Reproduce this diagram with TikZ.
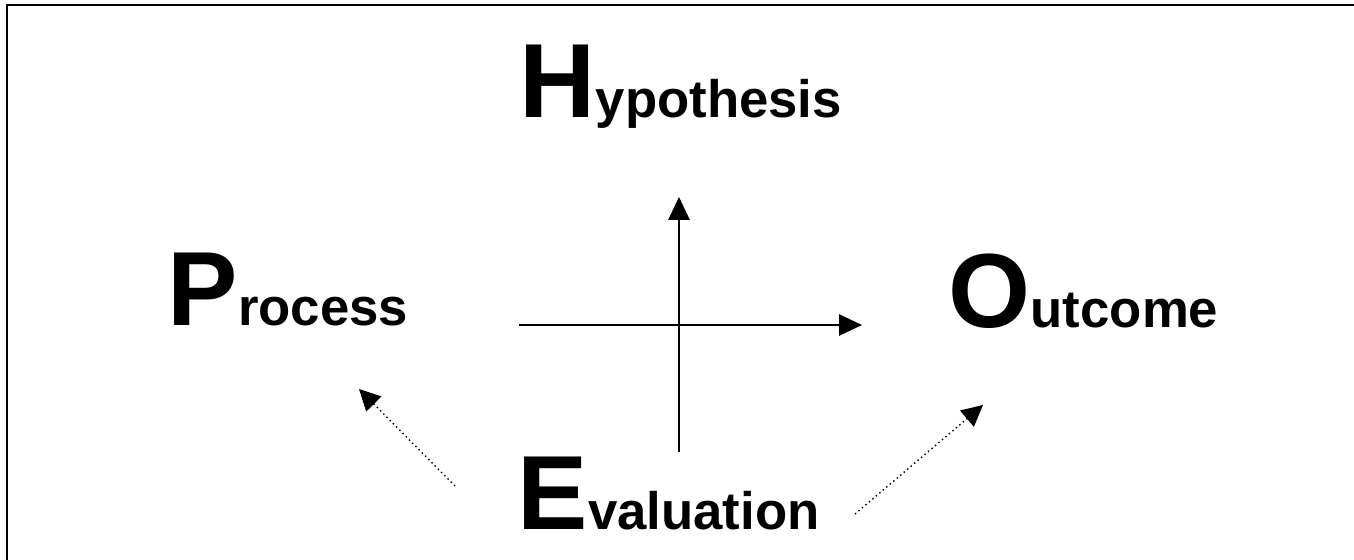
\documentclass[tikz,border=0pt]{standalone}
\usepackage{fontspec}
\setmainfont{Liberation Sans}
\usetikzlibrary{arrows.meta, positioning}

% big first letter, smaller rest of the word
\newcommand{\hpoeword}[2]{{\fontsize{30}{30}\selectfont #1}{\fontsize{15}{15}\selectfont #2}}

\begin{document}
\begin{tikzpicture}[
    x=0.1mm, y=-0.1mm,
    word/.style={font=\bfseries, inner sep=0pt, anchor=base west},
    axis/.style={-{Triangle[length=6.5pt, width=6pt]}, line width=0.6pt},
    feedback/.style={-{Triangle[length=6pt, width=6pt]}, line width=0.4pt,
        dash pattern=on 0.4pt off 0.9pt}
]
\useasboundingbox (0,0) rectangle (1354,560);

% Frame (open at right and bottom)
\draw[line width=0.6pt] (7,560) -- (7,5) -- (1354,5);

% Words
\node[word] (hyp) at (519,118) {\hpoeword{H}{ypothesis}};
\node[word] (proc) at (167,326) {\hpoeword{P}{rocess}};
\node[word] (out) at (948,328) {\hpoeword{O}{utcome}};
\node[word] (eval) at (517,530) {\hpoeword{E}{valuation}};

% Cross of axes
\coordinate (hl) at (519,325);
\coordinate (hr) at (862,325);
\coordinate (vb) at (679,452);
\coordinate (vt) at (679,197);
\draw[axis] (hl) -- (hr);
\draw[axis] (vb) -- (vt);

% Feedback from evaluation
\coordinate (fl) at (455,486);
\coordinate (fr) at (855,514);
\coordinate (pl) at (359,389);
\coordinate (pr) at (983,405);
\draw[feedback] (fl) -- (pl);
\draw[feedback] (fr) -- (pr);

\end{tikzpicture}
\end{document}
